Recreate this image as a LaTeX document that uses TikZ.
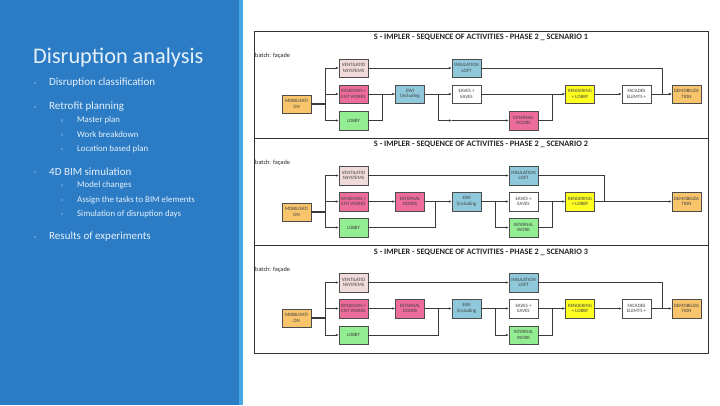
\documentclass[tikz,border=0pt]{standalone}
\usepackage{fontspec}
\setmainfont{Carlito}
\usetikzlibrary{arrows.meta,shadows}
\definecolor{panel}{HTML}{2B7CC5}
\definecolor{stripe}{HTML}{46A8E2}
\definecolor{ptext}{HTML}{E6F1FA}
\definecolor{bul}{HTML}{4F9AD8}
\definecolor{cOrange}{HTML}{F8C46C}
\definecolor{cPinkL}{HTML}{F0DADA}
\definecolor{cPink}{HTML}{EE6C9C}
\definecolor{cGreen}{HTML}{93EE93}
\definecolor{cBlue}{HTML}{8EC8DA}
\definecolor{cYellow}{HTML}{FFFF22}
\definecolor{lineC}{HTML}{3A3A3A}
\tikzset{
  box/.style={draw=gray!60!black, line width=0.4pt, minimum width=29pt, minimum height=18.5pt,
    inner sep=0pt, align=center, font=\fontsize{4.9}{5.6}\selectfont, text=black!75,
    drop shadow={shadow xshift=0.7pt, shadow yshift=-0.7pt, opacity=0.35, fill=black}},
  arr/.style={draw=lineC, line width=0.5pt, -{Latex[length=3pt,width=2.4pt]}},
  ln/.style={draw=lineC, line width=0.5pt},
  mline/.style={draw=lineC, line width=1.1pt},
  ttl/.style={font=\fontsize{8.3}{9}\selectfont\bfseries, text=black!85, inner sep=0pt},
  batch/.style={font=\fontsize{6.3}{7}\selectfont, text=black!85, anchor=west, inner sep=0pt},
  l1/.style={font=\fontsize{11}{13}\selectfont, text=ptext, anchor=west, inner sep=0pt},
  l2/.style={font=\fontsize{8.8}{10}\selectfont, text=ptext, anchor=west, inner sep=0pt},
  bsq/.style={fill=bul, minimum size=2.2pt, inner sep=0pt},
}
\begin{document}
\begin{tikzpicture}[x=1pt,y=-1pt]
\useasboundingbox (0,0) rectangle (720,405);
\fill[white] (0,0) rectangle (720,405);
% left panel
\fill[panel] (0,0) rectangle (239,405);
\fill[stripe] (239,0) rectangle (243,405);
\node[anchor=base west, inner sep=0pt, font=\fontsize{22.3}{26}\selectfont, text=ptext] (ttlmain) at (33,63) {Disruption analysis};
\node[bsq] (b1) at (35,83) {}; \node[l1] (t1) at (49,83) {Disruption classification};
\node[bsq] (b2) at (35,107) {}; \node[l1] (t2) at (49,107) {Retrofit planning};
\node[bsq] (b3) at (62,120.5) {}; \node[l2] (t3) at (77,120.5) {Master plan};
\node[bsq] (b4) at (62,134.5) {}; \node[l2] (t4) at (77,134.5) {Work breakdown};
\node[bsq] (b5) at (62,149) {}; \node[l2] (t5) at (77,149) {Location based plan};
\node[bsq] (b6) at (35,172) {}; \node[l1] (t6) at (49,172) {4D BIM simulation};
\node[bsq] (b7) at (62,185.5) {}; \node[l2] (t7) at (77,185.5) {Model changes};
\node[bsq] (b8) at (62,200) {}; \node[l2] (t8) at (77,200) {Assign the tasks to BIM elements};
\node[bsq] (b9) at (62,214) {}; \node[l2] (t9) at (77,214) {Simulation of disruption days};
\node[bsq] (b10) at (35,237) {}; \node[l1] (t10) at (49,237) {Results of experiments};
% frame
\draw[draw=black!80, line width=0.6pt] (254,31) rectangle (708,353);
\draw[draw=black!80, line width=0.9pt] (254,138) -- (708,138);
\draw[draw=black!80, line width=0.9pt] (254,245) -- (708,245);
\node[ttl] (h1) at (481,37.5) {S - IMPLER - SEQUENCE OF ACTIVITIES - PHASE 2 \_ SCENARIO 1};
\node[ttl] (h2) at (481,144.5) {S - IMPLER - SEQUENCE OF ACTIVITIES - PHASE 2 \_ SCENARIO 2};
\node[ttl] (h3) at (481,252) {S - IMPLER - SEQUENCE OF ACTIVITIES - PHASE 2 \_ SCENARIO 3};
\node[batch] (bt1) at (255,56) {batch: façade};
\node[batch] (bt2) at (255,163) {batch: façade};
\node[batch] (bt3) at (255,270) {batch: façade};

% ===== Scenario 1 =====
\node[box, fill=cOrange] (mob1) at (296.5,104) {MOBILISATI\\ON};
\node[box, fill=cPinkL] (ven1) at (353.5,68) {VENTILATIO\\NSYSTEMS};
\node[box, fill=cPink] (win1) at (353.5,94) {WINDOWS +\\ENT WORKS};
\node[box, fill=cGreen] (lob1) at (353.5,120.5) {LOBBY};
\node[box, fill=cBlue] (ewi1) at (410,94) {EWI\\(including};
\node[box, fill=cBlue] (ins1) at (466.5,68) {INSULATION\\LOFT};
\node[box, fill=white] (eav1) at (466.5,94) {EAVES +\\EAVES};
\node[box, fill=cPink] (ext1) at (523.5,120.5) {EXTERNAL\\DOORS};
\node[box, fill=cYellow] (ren1) at (580,94) {RENDERING\\+ LOBBY};
\node[box, fill=white] (fac1) at (636.5,94) {FACADES\\ELEMTS +};
\node[box, fill=cOrange] (dem1) at (686.5,94) {DEMOBILIZA\\TION};
\coordinate (j1) at (325,104);
\coordinate (k1) at (382,94);
\coordinate (m1) at (438,94);
\coordinate (p1) at (452,120.5);
\coordinate (q1) at (552,94);
\coordinate (r1) at (662,94);
\draw[mline] (mob1.east) -- (j1);
\draw[arr] (j1) |- (ven1.west);
\draw[arr] (j1) |- (win1.west);
\draw[arr] (j1) |- (lob1.west);
\draw[arr] (ven1) -- (ins1);
\draw[arr] (win1) -- (ewi1);
\draw[ln] (lob1.east) -| (k1);
\draw[arr] (ewi1) -- (eav1);
\draw[arr] (m1) |- (p1);
\draw[arr] (p1) -- (ext1);
\draw[arr] (eav1) -- (ren1);
\draw[ln] (ext1.east) -| (q1);
\draw[arr] (ren1) -- (fac1);
\draw[arr] (fac1) -- (dem1);
\draw[arr] (ins1.east) -| (r1) -- (dem1.west);

% ===== Scenario 2 =====
\node[box, fill=cOrange] (mob2) at (296.5,212) {MOBILISATI\\ON};
\node[box, fill=cPinkL] (ven2) at (353.5,175.5) {VENTILATIO\\NSYSTEMS};
\node[box, fill=cPink] (win2) at (353.5,201.5) {WINDOWS +\\ENT WORKS};
\node[box, fill=cGreen] (lob2) at (353.5,227.5) {LOBBY};
\node[box, fill=cPink] (ext2) at (410,201.5) {EXTERNAL\\DOORS};
\node[box, fill=cBlue] (ewi2) at (466.5,201.5) {EWI\\(including};
\node[box, fill=cBlue] (ins2) at (523.5,175.5) {INSULATION\\LOFT};
\node[box, fill=white] (eav2) at (523.5,201.5) {EAVES +\\EAVES};
\node[box, fill=cGreen] (int2) at (523.5,227.5) {INTERNAL\\WORK};
\node[box, fill=cYellow] (ren2) at (580,201.5) {RENDERING\\+ LOBBY};
\node[box, fill=cOrange] (dem2) at (686.5,201.5) {DEMOBILIZA\\TION};
\coordinate (j2) at (325,212);
\coordinate (k2) at (435,201.5);
\coordinate (m2) at (495,201.5);
\coordinate (q2) at (552,201.5);
\coordinate (r2) at (604,201.5);
\draw[mline] (mob2.east) -- (j2);
\draw[arr] (j2) |- (ven2.west);
\draw[arr] (j2) |- (win2.west);
\draw[arr] (j2) |- (lob2.west);
\draw[arr] (ven2) -- (ins2);
\draw[arr] (win2) -- (ext2);
\draw[arr] (ext2) -- (ewi2);
\draw[ln] (lob2.east) -| (k2);
\draw[arr] (ewi2) -- (eav2);
\draw[arr] (m2) |- (int2.west);
\draw[arr] (eav2) -- (ren2);
\draw[ln] (int2.east) -| (q2);
\draw[arr] (ren2) -- (dem2);
\draw[ln] (ins2.east) -| (r2);

% ===== Scenario 3 =====
\node[box, fill=cOrange] (mob3) at (296.5,318) {MOBILISATI\\ON};
\node[box, fill=cPinkL] (ven3) at (353.5,282.5) {VENTILATIO\\NSYSTEMS};
\node[box, fill=cPink] (win3) at (353.5,308.5) {WINDOWS +\\ENT WORKS};
\node[box, fill=cGreen] (lob3) at (353.5,335) {LOBBY};
\node[box, fill=cPink] (ext3) at (410,308.5) {EXTERNAL\\DOORS};
\node[box, fill=cBlue] (ewi3) at (466.5,308.5) {EWI\\(including};
\node[box, fill=cBlue] (ins3) at (523.5,282.5) {INSULATION\\LOFT};
\node[box, fill=white] (eav3) at (523.5,308.5) {EAVES +\\EAVES};
\node[box, fill=cGreen] (int3) at (523.5,335) {INTERNAL\\WORK};
\node[box, fill=cYellow] (ren3) at (580,308.5) {RENDERING\\+ LOBBY};
\node[box, fill=white] (fac3) at (636.5,308.5) {FACADES\\ELEMTS +};
\node[box, fill=cOrange] (dem3) at (686.5,308.5) {DEMOBILIZA\\TION};
\coordinate (j3) at (325,318);
\coordinate (k3) at (438,308.5);
\coordinate (m3) at (495,308.5);
\coordinate (q3) at (552,308.5);
\coordinate (r3) at (662,308.5);
\draw[mline] (mob3.east) -- (j3);
\draw[arr] (j3) |- (ven3.west);
\draw[arr] (j3) |- (win3.west);
\draw[arr] (j3) |- (lob3.west);
\draw[arr] (ven3) -- (ins3);
\draw[arr] (win3) -- (ext3);
\draw[arr] (ext3) -- (ewi3);
\draw[ln] (lob3.east) -| (k3);
\draw[arr] (ewi3) -- (eav3);
\draw[arr] (m3) |- (int3.west);
\draw[arr] (eav3) -- (ren3);
\draw[ln] (int3.east) -| (q3);
\draw[arr] (ren3) -- (fac3);
\draw[arr] (fac3) -- (dem3);
\draw[ln] (ins3.east) -| (r3);
\end{tikzpicture}
\end{document}
